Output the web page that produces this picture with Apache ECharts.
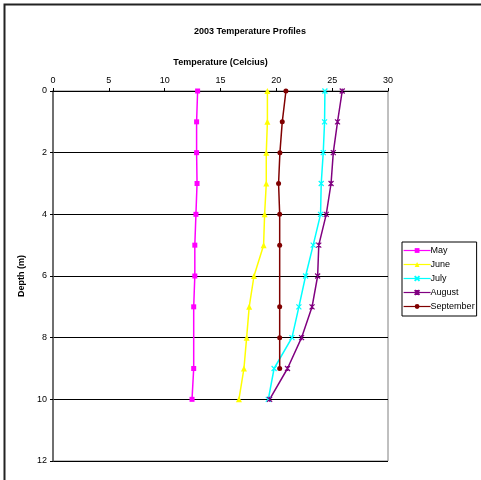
<!DOCTYPE html>
<html>
<head>
<meta charset="utf-8">
<script src="https://cdn.jsdelivr.net/npm/echarts@6/dist/echarts.min.js"></script>
<style>
  html, body { margin: 0; padding: 0; background: #fff; }
  #chart { width: 481px; height: 480px; }
</style>
</head>
<body>
<div id="chart"></div>
<script>
// depth of each reading (m)
const depths = [0, 1, 2, 3, 4, 5, 6, 7, 8, 9, 10]
// temperature (Celcius) per month, null = no reading
const may = [12.95, 12.86, 12.86, 12.9, 12.8, 12.7, 12.7, 12.6, null, 12.6, 12.45]
const june = [19.2, 19.2, 19.1, 19.1, 18.95, 18.86, 18.0, 17.57, 17.34, 17.1, 16.65]
const july = [24.35, 24.32, 24.2, 24.02, 23.96, 23.3, 22.62, 22.02, 21.4, 19.8, 19.28]
const august = [25.9, 25.48, 25.1, 24.9, 24.47, 23.8, 23.7, 23.2, 22.26, 21.0, 19.4]
const september = [20.86, 20.53, 20.32, 20.2, 20.3, 20.3, null, 20.3, 20.3, 20.3, null]

const xTicks = [0, 30, 5]   // min, max, step
const yTicks = [0, 12, 2]

const toPairs = (arr) => depths
  .map((d, i) => [arr[i], d])
  .filter(p => p[0] !== null)

const font = 'Liberation Sans, Arial, sans-serif'

const crossPath = 'path://M0,0L10,10M10,0L0,10'
const starPath = 'path://M0,0L10,10M10,0L0,10M5,0L5,10'

const mkSeries = (name, arr, color, symbol, size) => ({
  name: name,
  type: 'line',
  data: toPairs(arr),
  symbol: symbol,
  symbolSize: size,
  lineStyle: { color: color, width: 1.5 },
  itemStyle: { color: color, borderColor: color, borderWidth: symbol.startsWith('path') ? 1.2 : 0 },
  emphasis: { disabled: true },
  animation: false
})

const chart = echarts.init(document.getElementById('chart'))

chart.setOption({
  backgroundColor: '#fff',
  textStyle: { fontFamily: font },
  graphic: [
    {
      type: 'rect',
      shape: { x: 4.5, y: 4.5, width: 600, height: 600 },
      style: { fill: 'none', stroke: '#222', lineWidth: 2 },
      silent: true
    }
  ],
  title: {
    text: '2003 Temperature Profiles',
    left: 189,
    top: 22,
    textStyle: { fontSize: 9, fontWeight: 'bold', color: '#000', fontFamily: font }
  },
  grid: {
    left: 53,
    right: 93,
    top: 91,
    bottom: 19,
    show: true,
    borderColor: '#808080',
    borderWidth: 1
  },
  legend: {
    orient: 'vertical',
    left: 402,
    top: 242,
    padding: [4, 2, 5, 1],
    itemGap: 5,
    itemWidth: 27,
    itemHeight: 6,
    borderColor: '#000',
    borderWidth: 1,
    lineStyle: { width: 1.2 },
    textStyle: { fontSize: 9, color: '#000', fontFamily: font, padding: [0, 0, 0, -5] },
    data: ['May', 'June', 'July', 'August', 'September']
  },
  xAxis: {
    type: 'value',
    position: 'top',
    min: xTicks[0],
    max: xTicks[1],
    interval: xTicks[2],
    name: 'Temperature (Celcius)',
    nameLocation: 'middle',
    nameGap: 24,
    nameTextStyle: { fontSize: 9, fontWeight: 'bold', color: '#000', fontFamily: font },
    axisLine: { lineStyle: { color: '#000', width: 1 } },
    axisTick: { show: true, length: 3, lineStyle: { color: '#000' } },
    axisLabel: { fontSize: 9, color: '#000', margin: 6, fontFamily: font },
    splitLine: { show: false }
  },
  yAxis: {
    type: 'value',
    inverse: true,
    min: yTicks[0],
    max: yTicks[1],
    interval: yTicks[2],
    name: 'Depth (m)',
    nameLocation: 'middle',
    nameGap: 21,
    nameTextStyle: { fontSize: 9, fontWeight: 'bold', color: '#000', fontFamily: font },
    axisLine: { lineStyle: { color: '#555', width: 1.5 } },
    axisTick: { show: true, length: 3, lineStyle: { color: '#000' } },
    axisLabel: { fontSize: 9, color: '#000', margin: 6, fontFamily: font },
    splitLine: { show: true, lineStyle: { color: '#000', width: 1 } }
  },
  series: [
    mkSeries('May', may, '#ff00ff', 'rect', 5),
    mkSeries('June', june, '#ffff00', 'triangle', 6),
    mkSeries('July', july, '#00ffff', crossPath, 5),
    mkSeries('August', august, '#800080', starPath, 5),
    mkSeries('September', september, '#800000', 'circle', 5)
  ]
})
</script>
</body>
</html>
